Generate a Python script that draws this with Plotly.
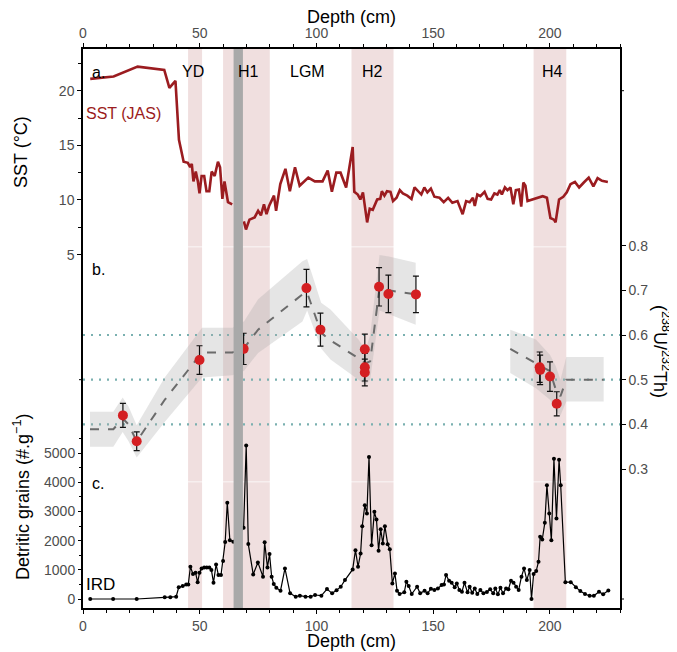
import plotly.graph_objects as go

# ---------------- data ----------------
sst_depth = [3.1, 13.1, 23.4, 34.8, 37.0, 39.6, 41.1, 43.1, 44.9, 45.9, 46.6, 47.3, 48.3, 49.2, 49.9,
             50.8, 51.9, 52.9, 54.1, 55.1, 56.4, 57.8, 58.7, 59.7, 60.6, 62.1, 63.9, None,
             68.9, 69.8, 71.3, 73.5, 75.0, 76.2, 77.5, 78.6, 79.7, 81.8, 82.7, 84.5, 86.7, 88.6,
             90.8, 92.8, 96.5, 99.3, 102.6, 104.8, 106.6, 108.5, 110.3, 112.7, 115.5, 116.2,
             117.7, 118.8, 119.9, 121.7, 122.8, 124.1, 126.0, 127.3, 128.0, 129.1, 130.2, 131.7,
             132.8, 134.3, 135.7, 137.0, 138.9, 140.7, 142.0, 143.5, 144.9, 146.2, 147.5, 149.0,
             150.5, 152.7, 154.5, 156.4, 158.2, 160.4, 162.6, 164.1, 165.6, 167.0, 167.8, 168.9,
             170.2, 172.0, 173.3, 174.8, 176.2, 177.5, 178.5, 179.4, 180.7, 181.8, 183.1, 184.3,
             185.4, 186.7, 187.7, 188.6, 189.5, 190.4, 192.3, 195.0, 196.9, 198.7, 200.2, 201.7,
             202.4, 203.9, 205.7, 207.2, 208.8, 210.7, 212.5, 214.5, 216.6, 218.6, 220.4, 222.3,
             224.8]
sst_val = [21.08, 21.3, 22.2, 21.9, 20.25, 20.9, 15.5, 13.5, 13.4, 13.0, 13.3, 11.7, 12.6, 11.7, 10.6,
           12.2, 12.2, 10.8, 10.8, 12.6, 12.2, 13.5, 13.0, 10.1, 11.7, 9.8, 9.6, None,
           8.05, 7.3, 8.2, 8.4, 9.0, 8.6, 9.6, 8.7, 9.45, 10.4, 9.0, 11.45, 12.85, 10.8,
           13.0, 11.3, 12.05, 11.7, 11.7, 12.7, 10.75, 12.5, 12.5, 11.15, 14.85, 10.75,
           10.5, 10.05, 10.7, 7.95, 9.2, 9.1, 10.05, 10.1, 10.8, 10.4, 10.8, 10.75,
           9.9, 10.2, 10.9, 10.6, 10.4, 10.1, 11.15, 10.8, 10.5, 11.15, 10.7, 11.05,
           10.3, 10.2, 9.8, 10.2, 9.75, 9.9, 8.7, 9.9, 9.8, 10.2, 9.45, 10.5,
           10.35, 10.75, 10.1, 10.05, 10.6, 10.5, 10.9, 10.5, 11.15, 10.9, 11.15, 9.6,
           10.9, 10.95, 9.4, 11.6, 11.3, 9.9, 10.05, 10.2, 10.35, 10.2, 8.35, 8.2,
           7.95, 10.05, 10.3, 10.7, 11.45, 11.65, 11.15, 11.6, 12.05, 11.25, 12.0, 11.75,
           11.65]

uth_depth = [17.1, 23.0, 49.9, 68.8, 95.7, 101.7, 120.7, 120.7, 120.7, 126.8, 130.8, 142.6,
             195.6, 195.8, 200.0, 202.9]
uth_val = [0.420, 0.362, 0.544, 0.569, 0.705, 0.612, 0.568, 0.528, 0.516, 0.708, 0.692, 0.691,
           0.528, 0.522, 0.507, 0.446]
uth_err = [0.027, 0.021, 0.032, 0.035, 0.042, 0.037, 0.034, 0.031, 0.030, 0.043, 0.042, 0.041,
           0.034, 0.033, 0.033, 0.027]

# smoothed curve + envelope (two segments)
fit1_depth = [3, 13, 17, 19.5, 23, 35, 51, 64, 69, 75, 94, 96, 102, 106, 118, 121, 123, 127, 131, 142.5]
fit1_mid = [0.389, 0.389, 0.413, 0.400, 0.362, 0.455, 0.561, 0.561, 0.571, 0.612, 0.691, 0.695,
            0.605, 0.588, 0.548, 0.537, 0.541, 0.706, 0.700, 0.691]
fit1_lo = [0.350, 0.350, 0.383, 0.362, 0.326, 0.405, 0.505, 0.510, 0.520, 0.560, 0.630, 0.655,
           0.570, 0.545, 0.500, 0.488, 0.500, 0.655, 0.648, 0.623]
fit1_hi = [0.428, 0.428, 0.460, 0.440, 0.398, 0.505, 0.616, 0.616, 0.631, 0.680, 0.765, 0.770,
           0.672, 0.657, 0.590, 0.567, 0.600, 0.779, 0.776, 0.762]
fit2_depth = [183, 194, 200, 202.5, 204.5, 207, 223]
fit2_mid = [0.569, 0.537, 0.519, 0.478, 0.463, 0.500, 0.500]
fit2_lo = [0.515, 0.481, 0.455, 0.430, 0.420, 0.451, 0.451]
fit2_hi = [0.612, 0.590, 0.556, 0.530, 0.500, 0.551, 0.551]

ird_depth = [3.1, 12.9, 23.0, 35.0, 37.4, 39.9, 41.0, 42.7, 44.2, 45.1, 46.0, 47.1, 48.2, 49.1, 49.9,
             50.8, 51.9, 53.0, 54.1, 55.0, 55.9, 57.0, 58.0, 59.1, 60.0, 60.9, 61.8, 62.9, 64.4,
             68.8, 69.9, 70.8, 72.9, 74.9, 77.1, 77.8, 79.0, 79.9, 80.8, 81.7, 82.8, 84.6, 86.5,
             88.7, 91.1, 92.9, 95.3, 97.5, 99.4, 102.1, 104.5, 106.7, 108.6, 110.4, 112.2, 115.5,
             116.7, 117.8, 118.9, 119.6, 120.7, 121.6, 122.5, 123.6, 124.8, 125.7, 126.6, 127.5,
             128.4, 129.3, 130.5, 131.4, 132.5, 133.6, 134.5, 135.6, 137.6, 138.5, 139.5, 140.8,
             143.1, 144.4, 146.3, 147.6, 149.0, 150.5, 152.0, 153.6, 154.6, 155.5, 156.8, 157.9,
             159.2, 160.1, 161.2, 162.3, 163.4, 164.7, 165.6, 166.7, 167.8, 168.9, 170.2, 171.5,
             173.0, 174.4, 175.7, 176.6, 177.7, 178.8, 179.9, 181.2, 182.2, 183.3, 184.4, 185.5,
             186.6, 187.8, 188.9, 190.1, 191.3, 192.1, 193.0, 194.1, 195.1, 195.8, 196.7, 197.8,
             198.7, 199.7, 200.6, 201.7, 202.8, 203.9, 204.6, 206.6, 208.9, 211.1, 213.0, 215.0,
             217.0, 218.8, 221.0, 222.8, 225.0]
ird_val = [0, 0, 0, 57, 57, 80, 400, 444, 500, 500, 1105, 854, 900, 570, 900,
           1048, 1082, 1082, 1082, 990, 558, 1185, 820, 820, 1300, 1950, 3300, 2016, 1960,
           2437, 5260, 1880, 843, 1253, 763, 1948, 1082, 1538, 763, 513, 387, 285, 1048,
           194, 80, 114, 80, 80, 137, 114, 342, 194, 296, 421, 649, 1014,
           1674, 1105, 1560, 2494, 3212, 2927, 4863, 1845, 2984, 2722, 1651, 2392,
           1902, 2494, 1879, 1708, 535, 877, 285, 171, 228, 592, 444, 171,
           421, 194, 285, 194, 353, 308, 364, 478, 501, 820, 626, 558,
           399, 535, 308, 251, 558, 228, 421, 216, 364, 171, 308, 194,
           239, 330, 194, 364, 159, 387, 194, 364, 330, 626, 558, 421,
           308, 763, 1048, 649, 990, 0, 854, 957, 1276, 2130, 2039, 2608,
           3895, 2927, 2016, 4806, 2756, 4772, 3895, 576, 576, 405, 270, 170,
           110, 110, 250, 160, 290]

pink_bands = [(45, 51), (60, 80), (115, 133), (193, 207)]
grey_band = (64.5, 68.5)
period_labels = ["YD", "H1", "LGM", "H2", "H4"]
period_x = [47, 71, 96, 124, 201]
ref_levels = [0.4, 0.5, 0.6]

# ---------------- geometry helpers ----------------
OFF = 8                      # page body margin of the browser
W, H = 669, 644
ML, MR, MT, MB = 75, 57, 41, 44
PW = W - ML - MR
PH = H - MT - MB
def py2paper(py):            # py: screen pixel row
    return (OFF + H - MB - py) / PH
def px2paper(px):            # px: screen pixel column
    return (px - OFF - ML) / PW

SST_RANGE = [-27.33, 23.815]
IRD_RANGE = [-308, 18836]
UTH_RANGE = [-0.0112, 1.2404]

FONT = "Liberation Sans, Arial, Helvetica, sans-serif"
TICKCOL = "#4d4d4d"
SSTCOL = "#9b1c20"

fig = go.Figure()

for d, lo, hi in [(fit1_depth, fit1_lo, fit1_hi), (fit2_depth, fit2_lo, fit2_hi)]:
    fig.add_trace(go.Scatter(x=list(d) + list(d)[::-1], y=list(hi) + list(lo)[::-1],
                             fill="toself", fillcolor="rgba(170,170,170,0.30)",
                             line=dict(width=0), mode="lines", yaxis="y3",
                             hoverinfo="skip", showlegend=False))
for d, m in [(fit1_depth, fit1_mid), (fit2_depth, fit2_mid)]:
    fig.add_trace(go.Scatter(x=d, y=m, mode="lines", yaxis="y3",
                             line=dict(color="#6b6b6b", width=2, dash="dash"), showlegend=False))

fig.add_trace(go.Scatter(x=uth_depth, y=uth_val, mode="markers", yaxis="y3",
                         marker=dict(color="#d41f22", size=10),
                         error_y=dict(type="data", array=uth_err, color="#111111",
                                      thickness=1.2, width=3),
                         showlegend=False))

fig.add_trace(go.Scatter(x=sst_depth, y=sst_val, mode="lines", yaxis="y",
                         line=dict(color=SSTCOL, width=2.6), connectgaps=False,
                         showlegend=False))

fig.add_trace(go.Scatter(x=ird_depth, y=ird_val, mode="lines+markers", yaxis="y2",
                         line=dict(color="black", width=1.2),
                         marker=dict(color="black", size=4), showlegend=False))

fig.add_trace(go.Scatter(x=[0, 230], y=[None, None], xaxis="x2", yaxis="y",
                         mode="markers", showlegend=False, hoverinfo="skip"))

shapes = []
seg = [(49, 246.4), (247.2, 481.4), (482.2, 608.3)]
for x0, x1 in pink_bands:
    for a, b in seg:
        shapes.append(dict(type="rect", xref="x", yref="paper", x0=x0, x1=x1,
                           y0=py2paper(b), y1=py2paper(a), fillcolor="#f0dfdf",
                           line=dict(width=0), layer="below"))
for lv in ref_levels:
    shapes.append(dict(type="line", xref="paper", yref="y3", x0=0, x1=1, y0=lv, y1=lv,
                       line=dict(color="#7ab0b0", width=2.2, dash="2px,6px"), layer="below"))
shapes.append(dict(type="rect", xref="x", yref="paper", x0=grey_band[0], x1=grey_band[1],
                   y0=0, y1=1, fillcolor="#a9a9a9", line=dict(width=0), layer="above"))
tl = 4.0 / PW
shapes.append(dict(type="line", xref="paper", yref="y", x0=1, x1=1 + tl, y0=20, y1=20,
                   line=dict(color="black", width=1)))
shapes.append(dict(type="line", xref="paper", yref="y2", x0=1, x1=1 + tl, y0=0, y1=0,
                   line=dict(color="black", width=1)))
shapes.append(dict(type="line", xref="paper", yref="y3", x0=0, x1=-tl, y0=0.5, y1=0.5,
                   line=dict(color="black", width=1)))

def ann(text, x, y, xref, yref, size=16, color="black", xanchor="center", angle=0):
    return dict(text=text, x=x, y=y, xref=xref, yref=yref, xanchor=xanchor, yanchor="middle",
                textangle=angle, showarrow=False,
                font=dict(size=size, color=color, family=FONT))

annotations = []
for lab, xv in zip(period_labels, period_x):
    annotations.append(ann(lab, xv, py2paper(71), "x", "paper"))
annotations += [
    ann("a.", 3.0, 21.7, "x", "y", xanchor="left"),
    ann("SST (JAS)", 0.3, 17.95, "x", "y", color=SSTCOL, xanchor="left"),
    ann("b.", 3.0, 0.746, "x", "y3", xanchor="left"),
    ann("c.", 3.0, 3950, "x", "y2", xanchor="left"),
    ann("IRD", 0.6, 500, "x", "y2", size=17, xanchor="left"),
    ann("Depth (cm)", 0.5, py2paper(17), "paper", "paper", size=18),
    ann("Depth (cm)", 0.5, py2paper(641), "paper", "paper", size=18),
    ann("SST (°C)", px2paper(21), py2paper(152), "paper", "paper", size=18, angle=-90),
    ann("Detritic grains (#.g<sup>−1</sup>)", px2paper(21), py2paper(497), "paper", "paper",
        size=18, angle=-90),
    ann("(<sup>238</sup>U/<sup>232</sup>Th)", px2paper(662), py2paper(351), "paper", "paper",
        size=18, angle=90),
]

tickfont = dict(size=14, color=TICKCOL, family=FONT)
xcommon = dict(range=[0, 230], tickvals=[0, 50, 100, 150, 200], ticks="outside", ticklen=4,
               tickcolor="black", showline=True, linecolor="black", linewidth=1.5,
               showgrid=False, zeroline=False, tickfont=tickfont,
               minor=dict(tickmode="linear", tick0=0, dtick=10, ticks="outside", ticklen=3,
                          tickcolor="black", showgrid=False))

fig.update_layout(
    width=W, height=H, margin=dict(l=ML, r=MR, t=MT, b=MB),
    paper_bgcolor="white", plot_bgcolor="white", showlegend=False,
    xaxis=dict(**xcommon, side="bottom", anchor="y"),
    xaxis2=dict(**xcommon, side="top", overlaying="x", anchor="y"),
    yaxis=dict(range=SST_RANGE, tickvals=[5, 10, 15, 20], ticks="outside", ticklen=4,
               tickcolor="black", showline=True, linecolor="black", linewidth=1.5,
               showgrid=False, zeroline=False, tickfont=tickfont, side="left",
               minor=dict(tickmode="array", tickvals=[7.5, 12.5, 17.5, 22.5], ticks="outside",
                          ticklen=3, tickcolor="black", showgrid=False)),
    yaxis2=dict(range=IRD_RANGE, tickvals=[0, 1000, 2000, 3000, 4000, 5000], ticks="outside",
                ticklen=4, tickcolor="black", showline=False, showgrid=False, zeroline=False,
                tickfont=tickfont, side="left", overlaying="y", anchor="x",
                minor=dict(tickmode="array", tickvals=[500, 1500, 2500, 3500, 4500, 5500],
                           ticks="outside", ticklen=3, tickcolor="black", showgrid=False)),
    yaxis3=dict(range=UTH_RANGE, tickvals=[0.3, 0.4, 0.5, 0.6, 0.7, 0.8], ticks="outside",
                ticklen=4, tickcolor="black", showline=True, linecolor="black", linewidth=1.5,
                showgrid=False, zeroline=False, tickfont=tickfont, side="right",
                overlaying="y", anchor="x"),
    shapes=shapes, annotations=annotations,
)

fig.write_html("out.html")
